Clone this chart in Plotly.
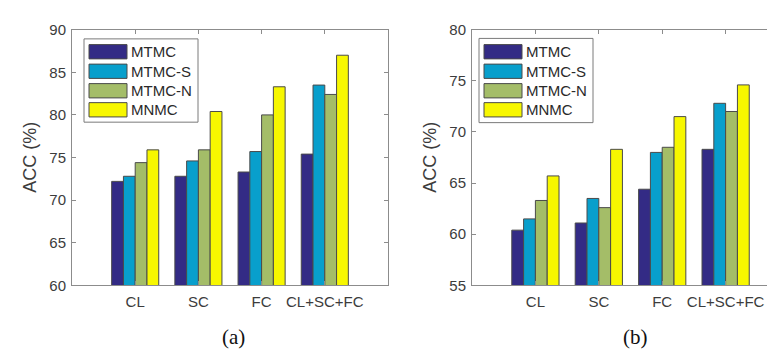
import plotly.graph_objects as go

categories = ["CL", "SC", "FC", "CL+SC+FC"]
series_names = ["MTMC", "MTMC-S", "MTMC-N", "MNMC"]

# Panel (a)
a_mtmc = [72.2, 72.8, 73.3, 75.4]
a_mtmc_s = [72.8, 74.6, 75.7, 83.5]
a_mtmc_n = [74.4, 75.9, 80.0, 82.4]
a_mnmc = [75.9, 80.4, 83.3, 87.0]

# Panel (b)
b_mtmc = [60.4, 61.1, 64.4, 68.3]
b_mtmc_s = [61.5, 63.5, 68.0, 72.8]
b_mtmc_n = [63.3, 62.6, 68.5, 72.0]
b_mnmc = [65.7, 68.3, 71.5, 74.6]

a_ticks = [60, 65, 70, 75, 80, 85, 90]
b_ticks = [55, 60, 65, 70, 75, 80]

colors = ["#332B85", "#089FCC", "#A4BD68", "#F7F700"]
edge = "#4a4a4a"
W, H = 775, 352

fig = go.Figure()
panel_a = [a_mtmc, a_mtmc_s, a_mtmc_n, a_mnmc]
panel_b = [b_mtmc, b_mtmc_s, b_mtmc_n, b_mnmc]
for name, vals, c in zip(series_names, panel_a, colors):
    fig.add_trace(go.Bar(x=categories, y=vals, name=name, marker=dict(color=c, line=dict(color=edge, width=1)),
                         xaxis="x", yaxis="y", showlegend=False))
for name, vals, c in zip(series_names, panel_b, colors):
    fig.add_trace(go.Bar(x=categories, y=vals, name=name, marker=dict(color=c, line=dict(color=edge, width=1)),
                         xaxis="x2", yaxis="y2", showlegend=False))

def px(x):
    return x / W

def py(y):
    return 1 - y / H

y_dom = [py(282), py(13.3)]
tickfont = dict(family="Liberation Sans, Arial", size=15, color="#3c3c3c")
axis_common = dict(showline=True, linecolor="#8c8c8c", linewidth=1, ticks="inside", ticklen=4,
                   tickcolor="#8c8c8c", tickfont=tickfont, showgrid=False, zeroline=False)

fig.update_layout(
    width=W, height=H, margin=dict(l=0, r=0, t=0, b=0),
    paper_bgcolor="white", plot_bgcolor="white",
    barmode="group", bargap=0.255, bargroupgap=0,
    xaxis=dict(domain=[px(64), px(380)], range=[-1, 4], mirror="ticks", anchor="y", ticklabelstandoff=3, **axis_common),
    yaxis=dict(domain=y_dom, range=[60, 90], tickvals=a_ticks, mirror="ticks", anchor="x", ticklabelstandoff=2, **axis_common),
    xaxis2=dict(domain=[px(464), 1], range=[-1, 3.905], mirror="ticks", anchor="y2", ticklabelstandoff=3, **axis_common),
    yaxis2=dict(domain=y_dom, range=[55, 80], tickvals=b_ticks, mirror=False, anchor="x2", ticklabelstandoff=2, **axis_common),
)

shapes = []
annotations = []

def legend(box, sw_x, text_x, rows):
    x0, y0, x1, y1 = box
    shapes.append(dict(type="rect", xref="paper", yref="paper", x0=px(x0), x1=px(x1), y0=py(y1), y1=py(y0),
                       line=dict(color="#7a7a7a", width=1), fillcolor="white", layer="above"))
    for (ry0, ry1), name, c in zip(rows, series_names, colors):
        shapes.append(dict(type="rect", xref="paper", yref="paper", x0=px(sw_x[0]), x1=px(sw_x[1]),
                           y0=py(ry1), y1=py(ry0), line=dict(color=edge, width=1), fillcolor=c, layer="above"))
        annotations.append(dict(text=name, xref="paper", yref="paper", x=px(text_x), y=py((ry0 + ry1) / 2),
                                xanchor="left", yanchor="middle", showarrow=False,
                                font=dict(family="Liberation Sans, Arial", size=15, color="#2a2a2a")))

rows = [(29, 44), (49.5, 64.5), (70, 85), (90, 105)]
legend((76, 23, 190, 110.5), (81, 119), 121, rows)
legend((471, 22.5, 585, 111), (476, 514), 516, rows)

title_font = dict(family="Liberation Sans, Arial", size=18, color="#3c3c3c")
annotations.append(dict(text="ACC (%)", xref="paper", yref="paper", x=px(22), y=py(148), textangle=-90,
                        showarrow=False, xanchor="center", yanchor="middle", font=title_font))
annotations.append(dict(text="ACC (%)", xref="paper", yref="paper", x=px(422), y=py(148), textangle=-90,
                        showarrow=False, xanchor="center", yanchor="middle", font=title_font))
cap_font = dict(family="Liberation Serif, Times New Roman", size=21, color="#111111")
annotations.append(dict(text="(a)", xref="paper", yref="paper", x=px(225), y=py(336), showarrow=False,
                        xanchor="center", yanchor="middle", font=cap_font))
annotations.append(dict(text="(b)", xref="paper", yref="paper", x=px(627), y=py(336), showarrow=False,
                        xanchor="center", yanchor="middle", font=cap_font))

fig.update_layout(shapes=shapes, annotations=annotations)
fig.write_html("out.html")
